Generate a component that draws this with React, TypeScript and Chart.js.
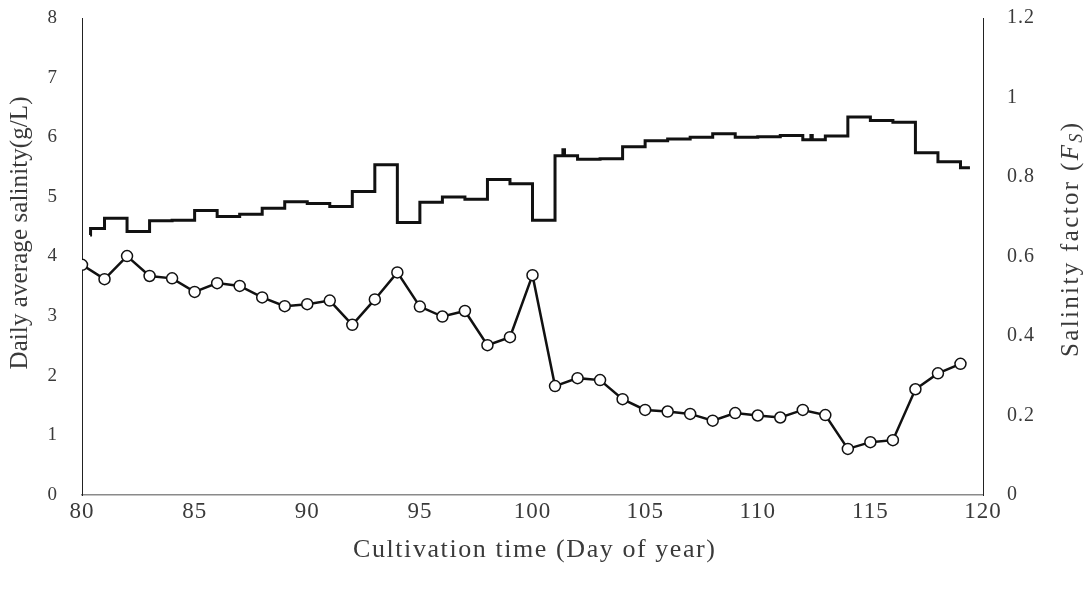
import React, { useEffect, useRef } from 'react';
import { Chart, registerables } from 'chart.js';

Chart.register(...registerables);

// Daily average salinity (g/L), held constant over each day (step line)
const stepDays = [80.36, 80.38, 81, 82, 83, 84, 85, 86, 87, 88, 89, 90, 91, 92, 93, 94, 95, 96, 97, 98, 99, 100, 101, 101.35, 101.42, 102, 103, 104, 105, 106, 107, 108, 109, 110, 111, 112, 112.36, 112.42, 113, 114, 115, 116, 117, 118, 119, 119.42];
const stepValues = [4.36, 4.47, 4.64, 4.42, 4.60, 4.61, 4.77, 4.67, 4.71, 4.81, 4.92, 4.89, 4.84, 5.09, 5.54, 4.57, 4.91, 5.00, 4.96, 5.29, 5.22, 4.61, 5.69, 5.79, 5.69, 5.63, 5.64, 5.84, 5.94, 5.97, 6.00, 6.06, 6.00, 6.01, 6.03, 5.96, 6.03, 5.96, 6.02, 6.34, 6.28, 6.25, 5.74, 5.59, 5.49, 5.49];

// Salinity factor (Fs), one point per day
const factorDays = [80, 81, 82, 83, 84, 85, 86, 87, 88, 89, 90, 91, 92, 93, 94, 95, 96, 97, 98, 99, 100, 101, 102, 103, 104, 105, 106, 107, 108, 109, 110, 111, 112, 113, 114, 115, 116, 117, 118, 119];
const factorValues = [0.579, 0.543, 0.601, 0.551, 0.545, 0.511, 0.533, 0.526, 0.497, 0.475, 0.480, 0.489, 0.428, 0.492, 0.560, 0.474, 0.449, 0.463, 0.377, 0.397, 0.553, 0.274, 0.294, 0.289, 0.241, 0.214, 0.210, 0.204, 0.187, 0.206, 0.200, 0.195, 0.214, 0.201, 0.116, 0.133, 0.138, 0.266, 0.306, 0.330];

const xTitle = 'Cultivation time (Day of year)';
const leftTitle = 'Daily average salinity(g/L)';
const rightTitleParts = ['Salinity factor (', 'F', 'S', ')'];

const FONT = '"Liberation Serif", "Times New Roman", serif';
const TEXT = '#3a3a3a';

function drawSpaced(ctx: any, text: string, cx: number, cy: number, target: number) {
  ctx.letterSpacing = '0px';
  const w = ctx.measureText(text).width;
  const sp = Math.max(0, (target - w) / Math.max(1, text.length - 1));
  ctx.letterSpacing = `${sp}px`;
  ctx.textAlign = 'left';
  ctx.fillText(text, cx - target / 2, cy);
  ctx.letterSpacing = '0px';
}

const tickSpacingPlugin = {
  id: 'tickSpacing',
  beforeDraw(chart: any) {
    chart.ctx.letterSpacing = '1px';
  },
  afterDraw(chart: any) {
    chart.ctx.letterSpacing = '0px';
  },
};

const titlePlugin = {
  id: 'axisTitles',
  afterDraw(chart: any) {
    const { ctx } = chart;
    ctx.save();
    ctx.fillStyle = TEXT;
    ctx.textBaseline = 'middle';
    ctx.font = `26px ${FONT}`;
    drawSpaced(ctx, xTitle, 534, 550, 362);

    ctx.save();
    ctx.font = `25px ${FONT}`;
    ctx.translate(20, 233);
    ctx.rotate(-Math.PI / 2);
    drawSpaced(ctx, leftTitle, 0, 0, 273);
    ctx.restore();

    // right title with italic F and subscript S
    ctx.save();
    ctx.translate(1070, 240);
    ctx.rotate(-Math.PI / 2);
    ctx.textAlign = 'left';
    ctx.textBaseline = 'alphabetic';
    const fNormal = `25px ${FONT}`;
    const fItalic = `italic 25px ${FONT}`;
    const fSub = `italic 18px ${FONT}`;
    const fonts = [fNormal, fItalic, fSub, fNormal];
    const offsets = [0, 0, 4, 0];
    const target = 234;
    let raw = 0;
    let chars = 0;
    const widths: number[] = [];
    ctx.letterSpacing = '0px';
    rightTitleParts.forEach((p, i) => {
      ctx.font = fonts[i];
      const w = ctx.measureText(p).width;
      widths.push(w);
      raw += w;
      chars += p.length;
    });
    const sp = Math.max(0, (target - raw) / (chars - 1));
    let x = -target / 2;
    ctx.letterSpacing = `${sp}px`;
    rightTitleParts.forEach((p, i) => {
      ctx.font = fonts[i];
      ctx.fillText(p, x, 8 + offsets[i]);
      x += widths[i] + sp * p.length;
    });
    ctx.letterSpacing = '0px';
    ctx.restore();
    ctx.restore();
  },
};

const trimPad = (s: any, width: number) => {
  s.width = width;
  s.paddingTop = 10;
  s.paddingBottom = 10;
};

export default function App() {
  const ref = useRef<HTMLCanvasElement | null>(null);

  useEffect(() => {
    document.body.style.margin = '0';
    const canvas = ref.current;
    if (!canvas) return;
    const chart = new Chart(canvas, {
      type: 'line',
      data: {
        datasets: [
          {
            label: 'Daily average salinity',
            data: stepDays.map((d, i) => ({ x: d, y: stepValues[i] })),
            yAxisID: 'y',
            stepped: true,
            borderColor: '#111111',
            borderWidth: 3,
            pointRadius: 0,
            fill: false,
          },
          {
            label: 'Salinity factor',
            data: factorDays.map((d, i) => ({ x: d, y: factorValues[i] })),
            yAxisID: 'y1',
            borderColor: '#111111',
            borderWidth: 2.5,
            pointRadius: 5.5,
            pointBorderWidth: 1.5,
            pointBackgroundColor: '#ffffff',
            pointBorderColor: '#111111',
            fill: false,
          },
        ],
      },
      options: {
        animation: false,
        responsive: true,
        maintainAspectRatio: false,
        layout: { padding: { top: 18, left: 0, right: 0, bottom: 0 } },
        plugins: {
          legend: { display: false },
          tooltip: { enabled: false },
        },
        scales: {
          x: {
            type: 'linear',
            min: 80,
            max: 120,
            grid: { display: false, drawTicks: false },
            border: { display: true, color: '#8a8a8a', width: 1.5 },
            ticks: {
              stepSize: 5,
              padding: 3,
              color: TEXT,
              font: { family: FONT, size: 23 },
              maxRotation: 0,
            },
            afterFit: (s: any) => { s.height = 95; },
          },
          y: {
            type: 'linear',
            position: 'left',
            min: 0,
            max: 8,
            grid: { display: false, drawTicks: false },
            border: { display: true, color: '#222222', width: 1 },
            ticks: {
              stepSize: 1,
              padding: 24,
              color: TEXT,
              font: { family: FONT, size: 19 },
            },
            afterFit: (s: any) => trimPad(s, 82),
          },
          y1: {
            type: 'linear',
            position: 'right',
            min: 0,
            max: 1.2,
            grid: { display: false, drawTicks: false },
            border: { display: true, color: '#222222', width: 1 },
            ticks: {
              stepSize: 0.2,
              padding: 24,
              color: TEXT,
              font: { family: FONT, size: 20 },
              callback: (v: any) => String(Math.round(Number(v) * 10) / 10),
            },
            afterFit: (s: any) => trimPad(s, 105),
          },
        },
      },
      plugins: [tickSpacingPlugin, titlePlugin],
    } as any);
    return () => chart.destroy();
  }, []);

  return (
    <div style={{ position: 'fixed', left: 0, top: 0, width: 1088, height: 590, background: '#ffffff' }}>
      <canvas ref={ref} />
    </div>
  );
}
